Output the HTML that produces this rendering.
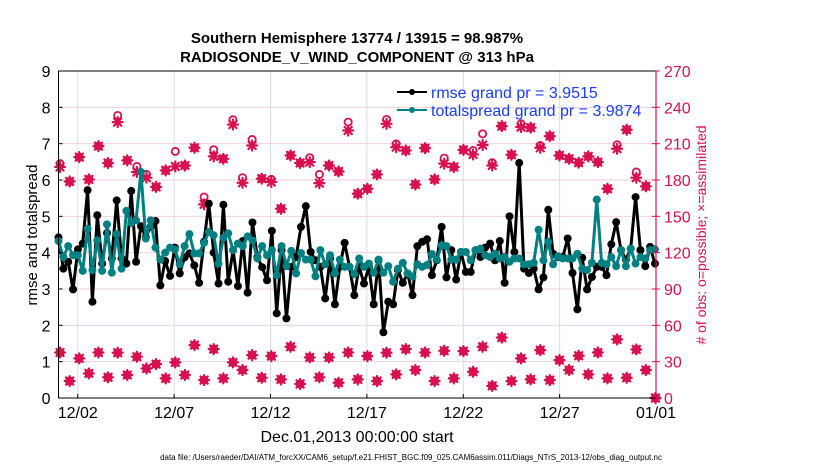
<!DOCTYPE html>
<html><head><meta charset="utf-8"><style>
html,body{margin:0;padding:0;background:#fff;}
svg{display:block;font-family:"Liberation Sans",sans-serif;}
</style></head><body>
<svg id="chart" width="830" height="470" viewBox="0 0 830 470" xmlns="http://www.w3.org/2000/svg">
<text x="357" y="43" text-anchor="middle" font-size="15" font-weight="bold">Southern Hemisphere 13774 / 13915 = 98.987%</text>
<text x="357" y="62" text-anchor="middle" font-size="15" font-weight="bold">RADIOSONDE_V_WIND_COMPONENT @ 313 hPa</text>
<g id="grid"></g><g id="marks"></g><g id="axes"></g>
<text transform="translate(37,235) rotate(-90)" text-anchor="middle" font-size="15">rmse and totalspread</text>
<text transform="translate(706,235) rotate(-90)" text-anchor="middle" font-size="14" fill="#d7114f"># of obs: o=possible; ×=assimilated</text>
<text x="357" y="442" text-anchor="middle" font-size="16">Dec.01,2013 00:00:00 start</text>
<text x="411" y="460" text-anchor="middle" font-size="8">data file: /Users/raeder/DAI/ATM_forcXX/CAM6_setup/f.e21.FHIST_BGC.f09_025.CAM6assim.011/Diags_NTrS_2013-12/obs_diag_output.nc</text>
<g>
<line x1="397" y1="92" x2="427" y2="92" stroke="#000" stroke-width="2"/><circle cx="412" cy="92" r="3" fill="#000"/>
<text x="431" y="98" font-size="16" fill="#1a3cff">rmse grand pr = 3.9515</text>
<line x1="397" y1="110" x2="427" y2="110" stroke="#008080" stroke-width="2"/><circle cx="412" cy="110" r="3" fill="#008080"/>
<text x="431" y="116" font-size="16" fill="#1a3cff">totalspread grand pr = 3.9874</text>
</g>
</svg>
<script>
const rmse = [4.42,3.56,3.75,2.99,4.09,4.25,5.72,2.65,5.03,3.7,4.54,3.84,5.44,3.84,3.7,5.7,3.75,4.73,4.43,4.71,4.87,3.1,3.77,3.36,4.14,3.43,3.87,3.98,3.65,3.17,4.3,5.35,4.0,3.15,5.32,3.2,4.07,3.08,4.32,2.9,4.83,3.88,
3.6,3.24,4.6,2.33,4.07,2.19,3.61,3.88,4.71,5.28,4.02,3.79,3.61,2.74,3.84,2.58,3.61,4.27,3.61,2.83,3.61,3.15,3.61,2.58,3.79,1.81,2.65,2.58,3.52,3.17,3.43,2.83,4.18,4.3,4.37,3.38,3.79,4.71,3.32,4.07,3.26,
4.02,3.47,3.47,4.07,3.88,4.14,4.25,3.79,4.32,3.17,5.0,4.02,6.47,3.56,3.44,3.56,2.99,3.32,5.18,3.97,3.88,3.88,4.39,3.44,2.44,3.86,2.99,3.33,3.61,3.61,3.38,4.23,4.84,4.07,3.81,4.11,5.53,4.07,3.63,4.16,3.7];
const spread = [4.32,3.88,4.18,3.93,3.93,3.5,4.66,3.52,4.34,3.5,4.78,3.45,4.51,3.56,5.15,4.82,4.89,6.22,4.39,4.89,4.14,3.81,4.0,4.14,4.09,3.68,4.18,4.51,3.98,3.98,4.27,4.57,4.48,3.7,4.41,4.53,4.07,4.25,4.18,4.45,4.34,3.84,
4.18,3.93,4.07,3.38,4.18,3.63,4.05,3.43,3.99,3.81,3.81,3.35,4.07,3.68,3.93,3.43,3.81,3.61,3.61,3.41,3.84,3.61,3.7,3.45,3.81,3.45,3.63,3.2,3.56,3.72,3.43,3.34,3.68,3.61,3.66,3.96,3.81,4.2,4.18,3.81,3.81,4.02,
4.02,3.79,4.07,4.11,3.93,3.88,3.97,3.84,3.88,3.75,3.84,3.84,3.68,3.68,3.72,4.63,3.79,4.30,3.68,3.9,3.84,3.84,3.84,3.97,3.56,3.52,3.72,5.46,3.72,3.68,3.88,3.63,4.07,3.63,4.11,3.7,3.88,3.84,4.07,4.09];
const upperUsed = [190.7,178.8,198.9,180.5,208.0,194.0,227.8,196.2,186.6,181.9,174.3,187.9,191.2,192.0,206.6,159.9,199.5,197.5,225.8,177.7,208.5,181.1,178.3,156.3,200.3,194.0,194.8,177.4,192.0,187.1,220.9,168.7,
172.8,184.6,226.4,207.1,204.4,176.3,206.3,180.5,193.5,190.7,204.9,201.1,208.9,192.0,224.5,200.8,223.7,223.2,206.6,216.2,200.3,197.5,194.3,199.5,194.8,172.8,205.8,221.5,181.9,174.8,0];
const upperPoss = [193.5,178.8,198.9,180.5,208.0,194.0,233.3,196.2,191.2,184.6,174.3,187.9,203.6,192.0,206.6,166.0,205.0,197.5,229.7,181.9,213.4,181.1,180.5,156.3,200.3,194.0,198.4,184.6,192.0,187.1,227.8,168.7,
172.8,184.6,230.0,209.8,204.4,176.3,206.3,180.5,198.1,190.7,204.9,204.4,218.1,194.3,224.5,200.8,226.4,223.2,208.5,216.2,200.3,197.5,194.3,199.5,194.8,172.8,209.1,221.5,186.6,174.8,0];
const lowerObs = [37.6,14.0,32.7,20.3,37.6,17.1,37.4,19.0,34.1,24.4,28.0,16.2,29.4,19.0,43.7,14.8,40.4,16.2,29.4,23.1,35.4,16.7,34.6,15.4,42.3,11.6,33.5,17.1,33.5,12.6,37.6,15.4,
34.6,14.0,37.4,19.5,40.4,23.1,37.6,14.0,39.0,16.2,38.7,21.7,42.3,10.0,49.9,14.0,32.7,15.4,39.5,14.8,31.3,23.1,34.9,19.5,37.6,16.2,48.4,16.7,40.1,23.1,0];
const xTickLabels = ["12/02","12/07","12/12","12/17","12/22","12/27","01/01"];
const xTickDays = [1,6,11,16,21,26,31];
const yTicks = [0,1,2,3,4,5,6,7,8,9];
const y2Ticks = [0,30,60,90,120,150,180,210,240,270];

const NS="http://www.w3.org/2000/svg";
const X0=58.5,X1=656,Y0=398,Y1=71;
const xs=d=>X0+(X1-X0)*d/31;
const ys=v=>Y0-(Y0-Y1)*v/9;
const ys2=v=>Y0-(Y0-Y1)*v/270;
const CR="#d7114f";
function mk(tag,attrs,parent){const e=document.createElementNS(NS,tag);for(const k in attrs)e.setAttribute(k,attrs[k]);parent.appendChild(e);return e;}
const grid=document.getElementById('grid'),marks=document.getElementById('marks'),axes=document.getElementById('axes');

yTicks.forEach(v=>{
  if(v>0&&v<9){const g=mk('line',{x1:X0,x2:X1,y1:ys(v),y2:ys(v),stroke:'#f3cfdc','stroke-width':1},grid);
  
  }
  const t=mk('text',{x:X0-8,y:ys(v)+6,'text-anchor':'end','font-size':16},axes);t.textContent=v;
  
  
  mk('line',{x1:X0,x2:X0+4,y1:ys(v),y2:ys(v),stroke:'#000'},axes);
});
y2Ticks.forEach(v=>{
  const t=mk('text',{x:X1+8,y:ys2(v)+6,'font-size':16,fill:CR},axes);t.textContent=v;
  
  
  mk('line',{x1:X1-4,x2:X1+4,y1:ys2(v),y2:ys2(v),stroke:CR},axes);
});
xTickDays.forEach((d,i)=>{
  if(d<31){const g=mk('line',{x1:xs(d),x2:xs(d),y1:Y1,y2:Y0,stroke:'#dcdcdc','stroke-width':1},grid);
  
  }
  mk('line',{x1:xs(d),x2:xs(d),y1:Y0,y2:Y0-4,stroke:'#000'},axes);
  const t=mk('text',{x:xs(d),y:Y0+20,'text-anchor':'middle','font-size':16},axes);t.textContent=xTickLabels[i];
  
  
});
const frame=mk('path',{d:`M${X1},${Y1}H${X0}V${Y0}H${X1}`,fill:'none',stroke:'#000','stroke-width':1},axes);


const rax=mk('line',{x1:X1,x2:X1,y1:Y1,y2:Y0,stroke:CR,'stroke-width':1.2},axes);



const lineDay=i=>i*0.2516;
const obsDay=j=>0.08+j*0.4983;

function star(cx,cy,name){
  const g=mk('g',{stroke:CR,'stroke-width':2.2,fill:'none','stroke-linecap':'round'},marks);
  
  
  const r=5,d=3.6;
  mk('line',{x1:cx-r,x2:cx+r,y1:cy,y2:cy},g);mk('line',{x1:cx,x2:cx,y1:cy-r,y2:cy+r},g);
  mk('line',{x1:cx-d,x2:cx+d,y1:cy-d,y2:cy+d},g);mk('line',{x1:cx-d,x2:cx+d,y1:cy+d,y2:cy-d},g);
}
function circ(cx,cy,name){
  const c=mk('circle',{cx:cx,cy:cy,r:3.6,fill:'none',stroke:CR,'stroke-width':1.8},marks);
  
  
}
upperPoss.forEach((v,j)=>circ(xs(obsDay(j)),ys2(v),'obs-possible-upper'));
upperUsed.forEach((v,j)=>star(xs(obsDay(j)),ys2(v),'obs-assimilated-upper'));
lowerObs.forEach((v,j)=>{circ(xs(obsDay(j)),ys2(v),'obs-possible-lower');star(xs(obsDay(j)),ys2(v),'obs-assimilated-lower');});

function series(arr,color,name){
  const p=mk('polyline',{points:arr.map((v,i)=>xs(lineDay(i)).toFixed(1)+','+ys(v).toFixed(1)).join(' '),fill:'none',stroke:color,'stroke-width':3,'stroke-linejoin':'round'},marks);
  
  
  arr.forEach((v,i)=>{const c=mk('circle',{cx:xs(lineDay(i)),cy:ys(v),r:4,fill:color},marks);
    
    });
}
series(rmse,'#000','rmse');
series(spread,'#008080','totalspread');
</script>
</body></html>
